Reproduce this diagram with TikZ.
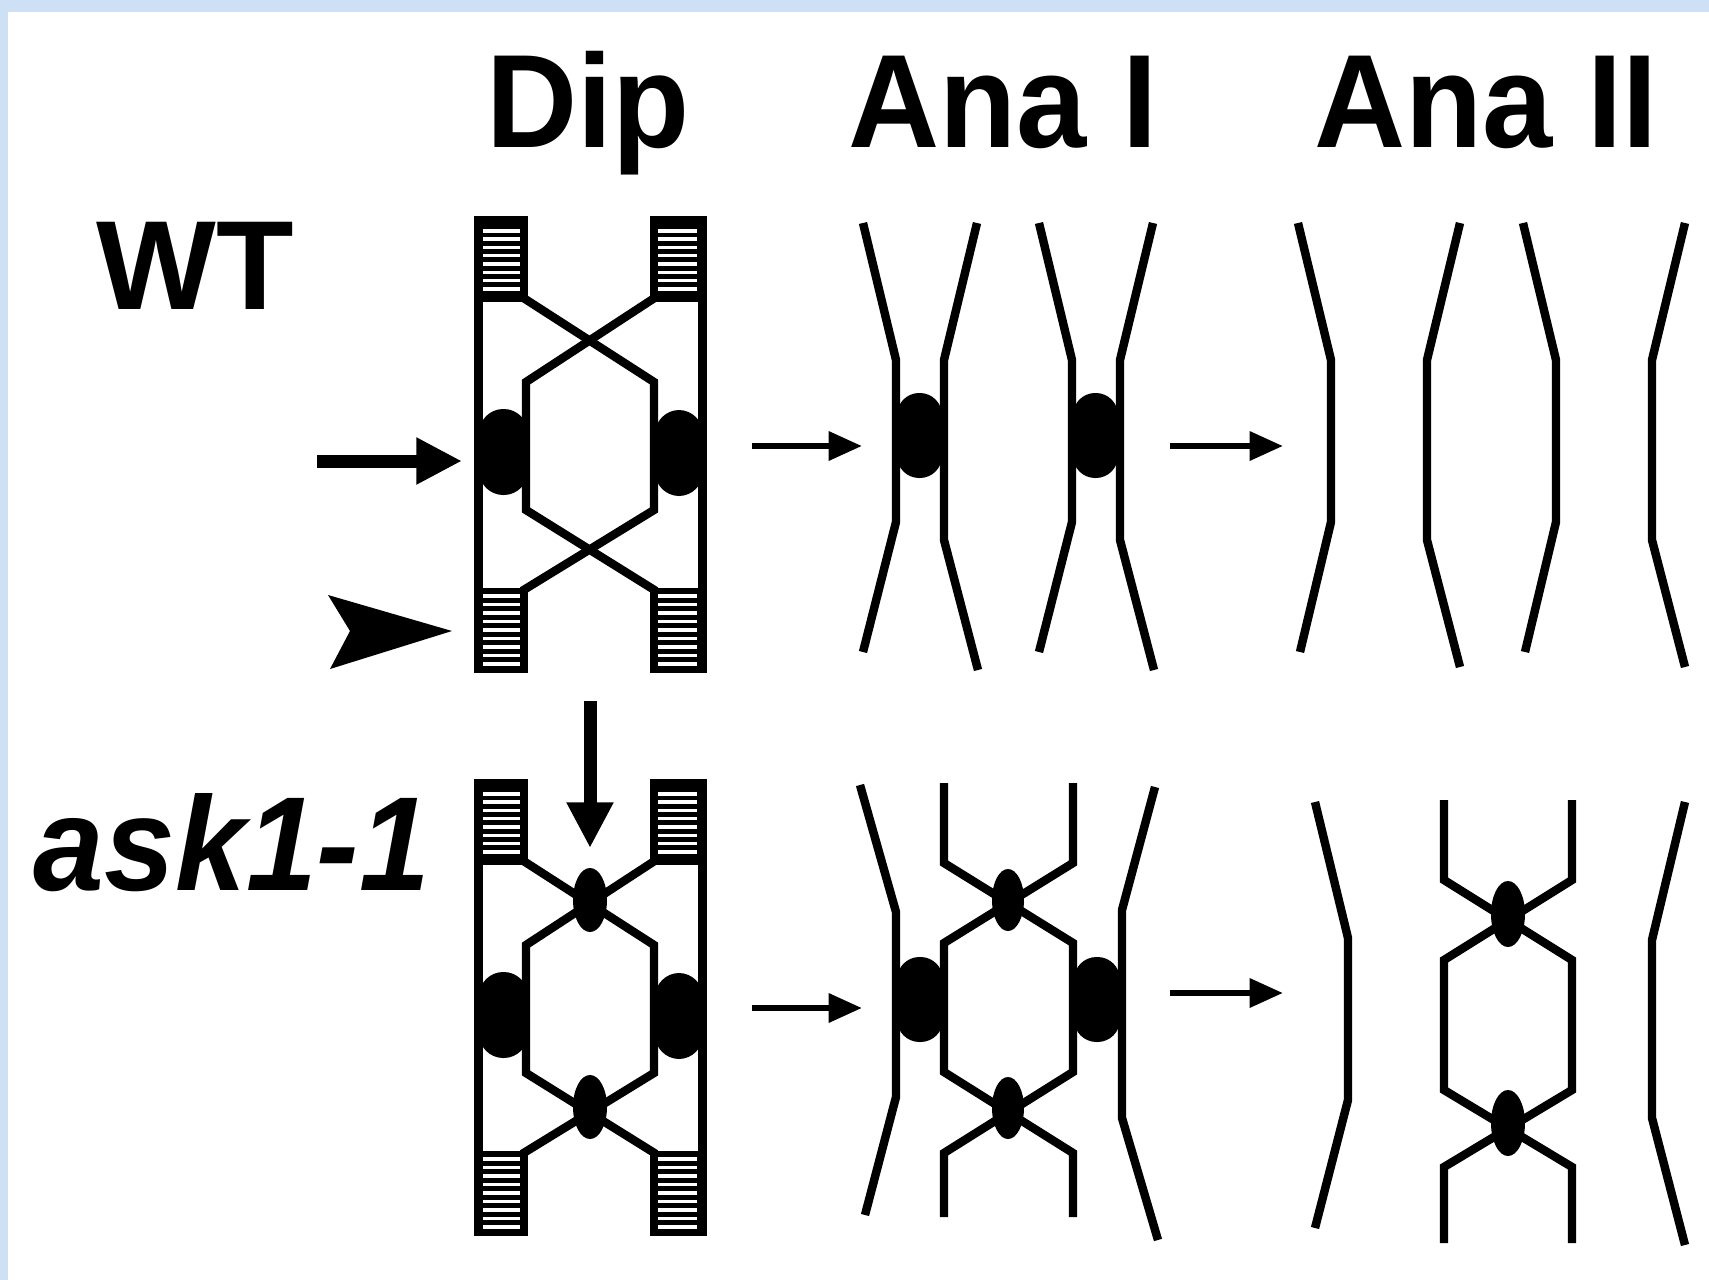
\documentclass[tikz,border=0pt]{standalone}
\usepackage{fontspec}
\setmainfont{Liberation Sans}
\usepackage{tikz}
\usetikzlibrary{arrows.meta}
\definecolor{framebg}{RGB}{206,224,245}

\begin{document}
\begin{tikzpicture}[x=0.1mm,y=-0.1mm,
    chrom/.style={line width=2.4pt, line join=miter},
    cenblob/.style={fill=black, rounded corners=6.9pt},
    stage/.style={anchor=base, font=\bfseries\fontsize{37.8pt}{40pt}\selectfont},
    stagearrow/.style={line width=1.8pt, -{Triangle[length=9.5pt,width=8pt]}},
    bigarrow/.style={line width=3.7pt, -{Triangle[length=13pt,width=12.5pt]}}]
\useasboundingbox (0,0) rectangle (1709,1280);

% Frame
\fill[framebg] (0,0) rectangle (1709,1280);
\fill[white] (8,12) rectangle (1709,1280);

% Column and row labels
\node[stage] (dip) at (588,147) {\scalebox{0.95}[1]{Dip}};
\node[stage] (anaI) at (1003,147) {\scalebox{0.95}[1]{Ana I}};
\node[stage] (anaII) at (1486,147) {\scalebox{0.95}[1]{Ana II}};
\node[anchor=base, font=\bfseries\fontsize{36.1pt}{38pt}\selectfont] (wt) at (195,309) {WT};
\node[anchor=base, font=\bfseries\itshape\fontsize{38.1pt}{40pt}\selectfont] (ask) at (232,890) {\scalebox{0.95}[1]{ask1-1}};

% Diplotene bivalents (WT on top, ask1-1 below)
\foreach \dy in {0,563} {
    % outer sister chromatids
    \fill (474,216+\dy) rectangle (483,673+\dy);
    \fill (698,216+\dy) rectangle (707,673+\dy);
    % telomere caps
    \foreach \xa/\xb/\sa/\sb in {474/528/483/520, 650/707/658/697} {
        \fill (\xa,216+\dy) rectangle (\xb,302+\dy);
        \fill (\xa,588+\dy) rectangle (\xb,673+\dy);
        \foreach \k in {0,...,7}
            \fill[white] (\sa,229+\dy+8.3*\k) rectangle (\sb,232.5+\dy+8.3*\k);
        \foreach \k in {0,...,8}
            \fill[white] (\sa,594+\dy+8.5*\k) rectangle (\sb,597.5+\dy+8.5*\k);
    }
    % crossed inner chromatids
    \draw[chrom] (522,297+\dy) -- (654,382+\dy) -- (654,510+\dy) -- (522,591+\dy);
    \draw[chrom] (656,297+\dy) -- (526,382+\dy) -- (526,510+\dy) -- (656,591+\dy);
    % centromeres
    \fill[cenblob] (479,409+\dy) rectangle (528,495+\dy);
    \fill[cenblob] (655,410+\dy) rectangle (703,496+\dy);
}
% ask1-1 chiasmata
\fill (590,900) ellipse [x radius=17, y radius=32];
\fill (590,1107) ellipse [x radius=17, y radius=32];

% Ana I, WT
\foreach \x in {920,1096} {
    \draw[chrom] (\x-57,223) -- (\x-24,360) -- (\x-24,522) -- (\x-57,652);
    \draw[chrom] (\x+57,223) -- (\x+24,360) -- (\x+24,540) -- (\x+58,670);
    \fill[cenblob, rounded corners=6.3pt] (\x-23,393) rectangle (\x+22,478);
}

% Ana II, WT
\foreach \x in {1298,1523} {
    \draw[chrom] (\x,223) -- (\x+33,360) -- (\x+33,522) -- (\x+2,652);
}
\foreach \x in {1460,1685} {
    \draw[chrom] (\x,223) -- (\x-33,360) -- (\x-33,540) -- (\x,667);
}

% Ana I, ask1-1
\draw[chrom] (860,785) -- (896,912) -- (896,1097) -- (865,1215);
\draw[chrom] (1155,787) -- (1122,910) -- (1122,1118) -- (1158,1240);
\draw[chrom] (944,783) -- (944,863) -- (1073,943) -- (1073,1072) -- (944,1153) -- (944,1217);
\draw[chrom] (1073,783) -- (1073,863) -- (944,943) -- (944,1072) -- (1073,1153) -- (1073,1217);
\fill[cenblob, rounded corners=6.4pt] (897,957) rectangle (943,1042);
\fill[cenblob, rounded corners=6.4pt] (1074,957) rectangle (1120,1042);
\fill (1008,900) ellipse [x radius=16, y radius=31];
\fill (1008,1108) ellipse [x radius=16, y radius=31];

% Ana II, ask1-1
\draw[chrom] (1315,802) -- (1348,938) -- (1348,1100) -- (1315,1228);
\draw[chrom] (1685,802) -- (1652,940) -- (1652,1118) -- (1685,1245);
\draw[chrom] (1444,800) -- (1444,880) -- (1572,960) -- (1572,1090) -- (1444,1167) -- (1444,1243);
\draw[chrom] (1572,800) -- (1572,880) -- (1444,960) -- (1444,1090) -- (1572,1167) -- (1572,1243);
\fill (1508,914) ellipse [x radius=17, y radius=33];
\fill (1508,1123) ellipse [x radius=17, y radius=33];

% Stage arrows
\coordinate (wt1s) at (752,446);  \coordinate (wt1e) at (862,446);
\coordinate (wt2s) at (1170,446); \coordinate (wt2e) at (1283,446);
\coordinate (as1s) at (752,1008); \coordinate (as1e) at (862,1008);
\coordinate (as2s) at (1170,993); \coordinate (as2e) at (1283,993);
\draw[stagearrow] (wt1s) -- (wt1e);
\draw[stagearrow] (wt2s) -- (wt2e);
\draw[stagearrow] (as1s) -- (as1e);
\draw[stagearrow] (as2s) -- (as2e);

% Pointers: centromere, telomere, chiasma
\coordinate (cenS) at (317,461);  \coordinate (cenE) at (462,461);
\draw[bigarrow] (cenS) -- (cenE);
\fill (328,595) -- (452,631) -- (330,669) -- (350,631) -- cycle;
\coordinate (chiS) at (590,701);  \coordinate (chiE) at (590,848);
\draw[bigarrow] (chiS) -- (chiE);
\end{tikzpicture}
\end{document}
